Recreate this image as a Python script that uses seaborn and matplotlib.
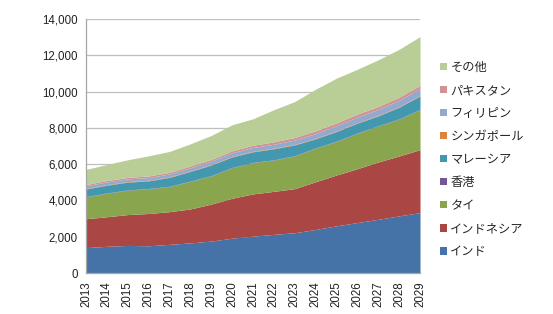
import numpy as np
import pandas as pd
import matplotlib
matplotlib.use("Agg")
import matplotlib.pyplot as plt
from matplotlib.patches import Patch
from matplotlib.ticker import FuncFormatter, MultipleLocator
import seaborn as sns

years = list(range(2013, 2030))
series_names = ["インド", "インドネシア", "タイ", "香港", "マレーシア",
                "シンガポール", "フィリピン", "パキスタン", "その他"]
india = [1400, 1470, 1520, 1500, 1580, 1660, 1760, 1920, 2030, 2130, 2220, 2400, 2600, 2780, 2960, 3150, 3330]
indonesia = [1590, 1630, 1700, 1780, 1800, 1870, 2040, 2200, 2330, 2370, 2430, 2630, 2800, 2970, 3160, 3300, 3470]
thailand = [1200, 1290, 1340, 1360, 1380, 1520, 1550, 1680, 1720, 1720, 1800, 1850, 1850, 1950, 1980, 2030, 2200]
hongkong = [20, 20, 20, 20, 20, 20, 20, 20, 20, 20, 20, 20, 20, 20, 20, 20, 20]
malaysia = [420, 430, 430, 420, 490, 530, 580, 580, 580, 610, 590, 500, 530, 540, 540, 640, 740]
singapore = [30, 30, 30, 30, 30, 30, 30, 30, 30, 30, 30, 30, 30, 30, 30, 30, 30]
philippines = [150, 150, 150, 150, 160, 170, 180, 200, 210, 220, 240, 260, 290, 310, 330, 350, 380]
pakistan = [70, 80, 80, 90, 90, 100, 100, 110, 120, 130, 140, 150, 150, 160, 160, 170, 170]
others = [830, 880, 970, 1110, 1150, 1220, 1320, 1430, 1460, 1770, 1980, 2290, 2470, 2470, 2570, 2640, 2690]

colors = ["#4572A7", "#AA4643", "#89A54E", "#71588F", "#4198AF",
          "#DB843D", "#93A9CF", "#D19392", "#B9CD96"]

df = pd.DataFrame({
    "year": years,
    "インド": india, "インドネシア": indonesia, "タイ": thailand, "香港": hongkong,
    "マレーシア": malaysia, "シンガポール": singapore, "フィリピン": philippines,
    "パキスタン": pakistan, "その他": others,
})

sns.set_theme(style="white")
plt.rcParams["font.family"] = ["Noto Sans CJK JP", "DejaVu Sans"]

fig = plt.figure(figsize=(5.53, 3.14), dpi=100)
ax = fig.add_axes([86 / 553, 1 - 273 / 314, (420 - 86) / 553, (273 - 19) / 314])

ax.stackplot(df["year"], [df[n] for n in series_names], colors=colors, linewidth=0)

ax.set_xlim(2013, 2029)
ax.set_ylim(0, 14000)
ax.yaxis.set_major_locator(MultipleLocator(2000))
ax.yaxis.set_major_formatter(FuncFormatter(lambda v, p: f"{int(v):,}"))
ax.set_xticks(years)
ax.set_xticklabels([str(y) for y in years], rotation=90)
ax.grid(axis="y", color="#BFBFBF", linewidth=0.9)
ax.set_axisbelow(True)
for s in ["top", "right"]:
    ax.spines[s].set_visible(False)
for s in ["left", "bottom"]:
    ax.spines[s].set_color("#A6A6A6")
    ax.spines[s].set_linewidth(0.9)
ax.tick_params(axis="both", which="major", direction="out", length=3.5, width=0.8,
               color="#A6A6A6", labelsize=8.3, labelcolor="#222222", pad=2.5)
for lab in ax.get_xticklabels() + ax.get_yticklabels():
    lab.set_family(["Liberation Sans", "DejaVu Sans"])
ax.set_xlabel("")
ax.set_ylabel("")

handles = [Patch(facecolor=c, edgecolor="none") for c in colors][::-1]
labels = series_names[::-1]
fig.legend(handles, labels, loc="upper left", bbox_to_anchor=(440 / 553, 1 - 61 / 314),
           frameon=False, fontsize=8.8, handlelength=0.55, handleheight=0.55,
           handletextpad=0.3, labelspacing=0.82, borderaxespad=0, borderpad=0)

fig.savefig("out.png", dpi=100)
